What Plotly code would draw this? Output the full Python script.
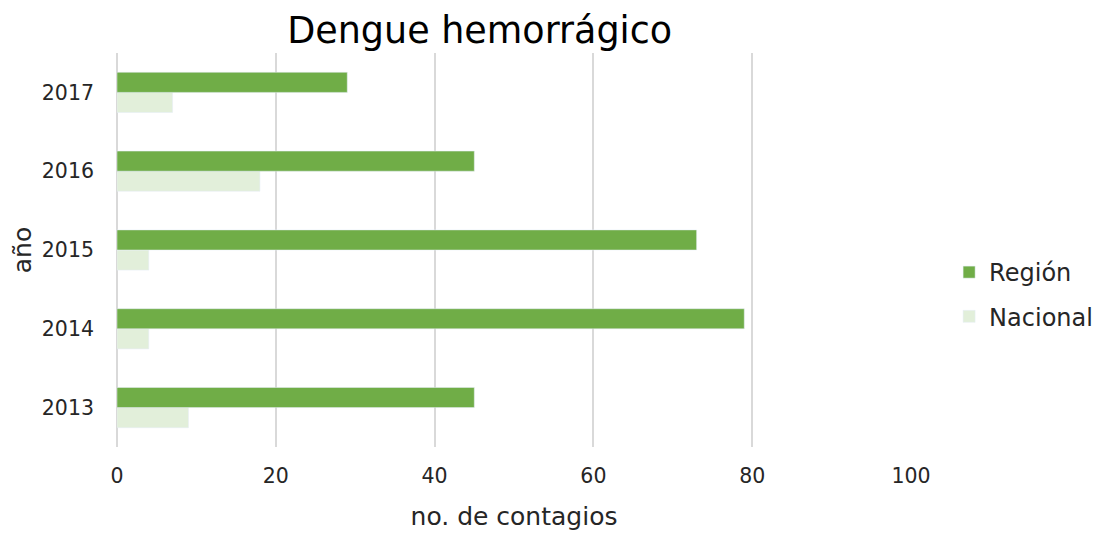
import plotly.graph_objects as go

# data
years = ["2013", "2014", "2015", "2016", "2017"]
region = [45, 79, 73, 45, 29]
nacional = [9, 4, 4, 18, 7]

FONT = "DejaVu Sans, sans-serif"

fig = go.Figure()

# Nacional first so it sits under Región within each group
fig.add_trace(go.Bar(
    y=years, x=nacional, name="Nacional", orientation="h",
    marker=dict(color="#E2EFDA"), legendgroup="n", legendrank=2,
))
fig.add_trace(go.Bar(
    y=years, x=region, name="Región", orientation="h",
    marker=dict(color="#70AD47"), legendgroup="r", legendrank=1,
))

fig.update_layout(
    width=1102, height=533,
    paper_bgcolor="white", plot_bgcolor="white",
    font=dict(family=FONT, size=20, color="#262626"),
    barmode="group", bargap=0.49, bargroupgap=0,
    title=dict(text="Dengue hemorrágico", x=0.428, xanchor="center",
               y=0.958, yanchor="middle", xref="container",
               font=dict(size=36.5, color="#000000")),
    margin=dict(l=109, r=199, t=45, b=94),
    xaxis=dict(
        range=[0, 100], dtick=20, showgrid=True, gridcolor="#D9D9D9",
        gridwidth=1.5, zeroline=True, zerolinecolor="#D9D9D9",
        zerolinewidth=1.5, showline=False, ticks="", ticklabelstandoff=14,
        title=dict(text="no. de contagios", font=dict(size=25), standoff=20),
        tickfont=dict(size=20.5), automargin=False,
    ),
    yaxis=dict(
        categoryorder="array", categoryarray=years, showgrid=False,
        showline=False, ticks="", ticklabelstandoff=22,
        title=dict(text="año", font=dict(size=25), standoff=8),
        tickfont=dict(size=20.5), automargin=False,
    ),
    legend=dict(
        x=1.048, y=0.387, xanchor="left", yanchor="middle",
        traceorder="grouped", tracegroupgap=10,
        font=dict(size=24, color="#262626"), itemwidth=30,
        bgcolor="rgba(0,0,0,0)",
    ),
)

fig.write_html("out.html")
